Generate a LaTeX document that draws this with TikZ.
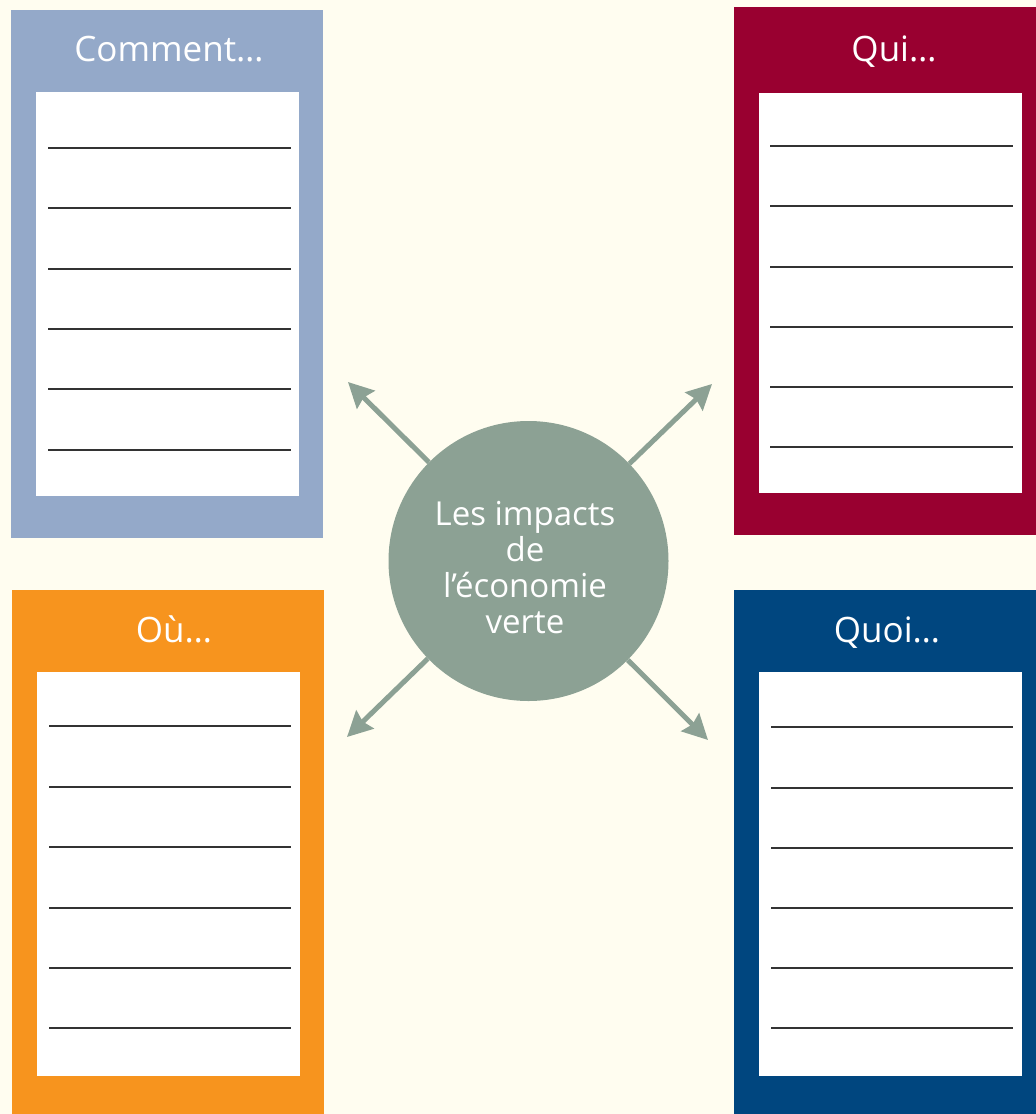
\documentclass[tikz,border=0pt]{standalone}
\usepackage{fontspec}
\setmainfont{Open Sans}
\usetikzlibrary{arrows.meta}
\definecolor{bgcream}{HTML}{FFFDF0}
\definecolor{cblue}{HTML}{94A9C9}
\definecolor{cred}{HTML}{990030}
\definecolor{corange}{HTML}{F7941E}
\definecolor{cnavy}{HTML}{00467F}
\definecolor{cgreen}{HTML}{8CA194}
\definecolor{rule}{HTML}{333333}
\tikzset{
  title/.style={text=white, font=\fontsize{35}{40}\selectfont, anchor=base, inner sep=0pt},
  sheet/.style={fill=white},
  wline/.style={draw=rule, line width=1.4pt},
  arr/.style={draw=cgreen, line width=5pt, -{Stealth[length=25pt,width=25pt,inset=3pt]}},
  hub/.style={circle, fill=cgreen, minimum size=280pt, inner sep=0pt},
  hubtext/.style={text=white, align=center, inner sep=0pt, font=\fontsize{33}{36}\selectfont}
}
\begin{document}
\begin{tikzpicture}[x=1pt,y=-1pt]
\fill[bgcream] (0,0) rectangle (1036,1114);
\useasboundingbox (0,0) rectangle (1036,1114);
% Comment box
\fill[cblue] (11,10) rectangle (323,538);
\fill[sheet] (36,92) rectangle (299,496);
\node[title] (tcomment) at (169,61) {Comment…};
\foreach \y in {148,208,269,329,389,450} \draw[wline] (48,\y) -- (291,\y);
% Qui box
\fill[cred] (734,7) rectangle (1036,535);
\fill[sheet] (759,93) rectangle (1022,493);
\node[title] (tqui) at (894,61) {Qui…};
\foreach \y in {146,206,267,327,387,447} \draw[wline] (770,\y) -- (1013,\y);
% Ou box
\fill[corange] (12,590) rectangle (324,1114);
\fill[sheet] (37,672) rectangle (300,1076);
\node[title] (tou) at (174,642) {Où…};
\foreach \y in {726,787,847,908,968,1028} \draw[wline] (49,\y) -- (291,\y);
% Quoi box
\fill[cnavy] (734,590) rectangle (1036,1114);
\fill[sheet] (759,672) rectangle (1022,1076);
\node[title] (tquoi) at (887,642) {Quoi…};
\foreach \y in {727,788,848,908,968,1028} \draw[wline] (771,\y) -- (1013,\y);
% hub
\node[hub] (hub) at (528.5,561) {};
\node[hubtext] (hublabel) at (525,568) {Les impacts\\de\\l’économie\\verte};
\coordinate (ptl) at (348,382);
\coordinate (ptr) at (712,384);
\coordinate (pbl) at (347,737);
\coordinate (pbr) at (708,740);
\draw[arr] (hub) -- (ptl);
\draw[arr] (hub) -- (ptr);
\draw[arr] (hub) -- (pbl);
\draw[arr] (hub) -- (pbr);
\end{tikzpicture}
\end{document}
